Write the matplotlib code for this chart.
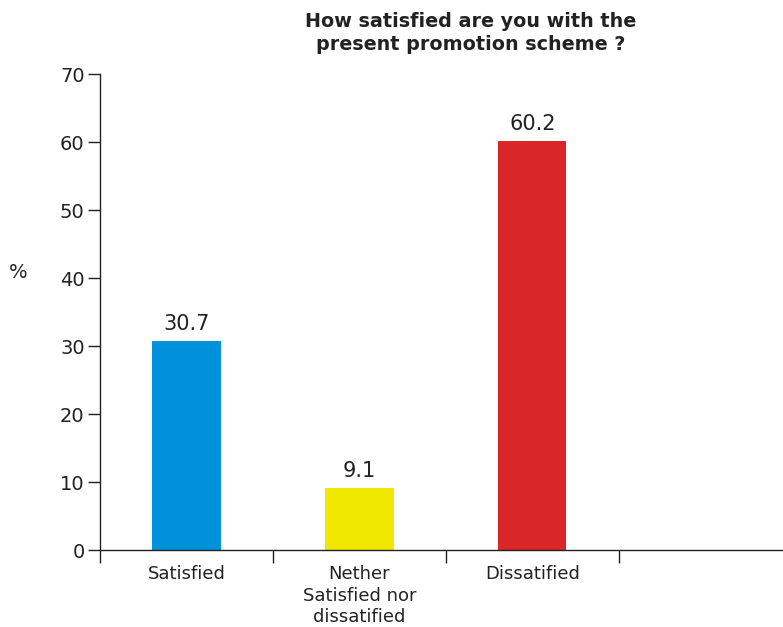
import matplotlib
matplotlib.use("Agg")
import matplotlib.pyplot as plt

categories = ["Satisfied", "Nether\nSatisfied nor\ndissatified", "Dissatified"]
values = [30.7, 9.1, 60.2]
colors = ["#0091DB", "#F0E800", "#DA2626"]
yticks = [0, 10, 20, 30, 40, 50, 60, 70]

TXT = "#222222"

fig = plt.figure(figsize=(7.83, 6.27), dpi=100)
ax = fig.add_axes([100 / 783, 77 / 627, 683 / 783, 476 / 627])

x = list(range(len(categories)))
ax.bar(x, values, width=0.395, color=colors, zorder=2)

for xi, v in zip(x, values):
    ax.annotate(f"{v:.1f}", (xi, v), xytext=(0, 5), textcoords="offset points",
                ha="center", va="bottom", fontsize=15, color=TXT)

ax.set_ylim(0, 70)
ax.set_xlim(-0.5, 3.45)
ax.set_yticks(yticks)
ax.tick_params(axis="y", length=9, width=1, colors="#222222", labelsize=14,
               labelcolor=TXT, pad=2)

# separators between categories as major ticks, names as minor ticks
ax.set_xticks([-0.5, 0.5, 1.5, 2.5])
ax.set_xticklabels([])
ax.tick_params(axis="x", which="major", length=9, width=1, colors="#222222")
ax.set_xticks(x, minor=True)
ax.set_xticklabels(categories, minor=True, fontsize=13, color=TXT, linespacing=1.25)
ax.tick_params(axis="x", which="minor", length=0, pad=11)

for side in ("top", "right"):
    ax.spines[side].set_visible(False)
for side in ("left", "bottom"):
    ax.spines[side].set_color("#222222")
    ax.spines[side].set_linewidth(1)

ax.set_ylabel("%", rotation=0, fontsize=14, color=TXT)
ax.yaxis.set_label_coords(-0.12, 0.563)

fig.text(471 / 783, 1 - 33 / 627, "How satisfied are you with the\npresent promotion scheme ?",
         ha="center", va="center", fontsize=13.8, fontweight="bold", color=TXT,
         linespacing=1.25)

fig.savefig("out.png", dpi=100)
